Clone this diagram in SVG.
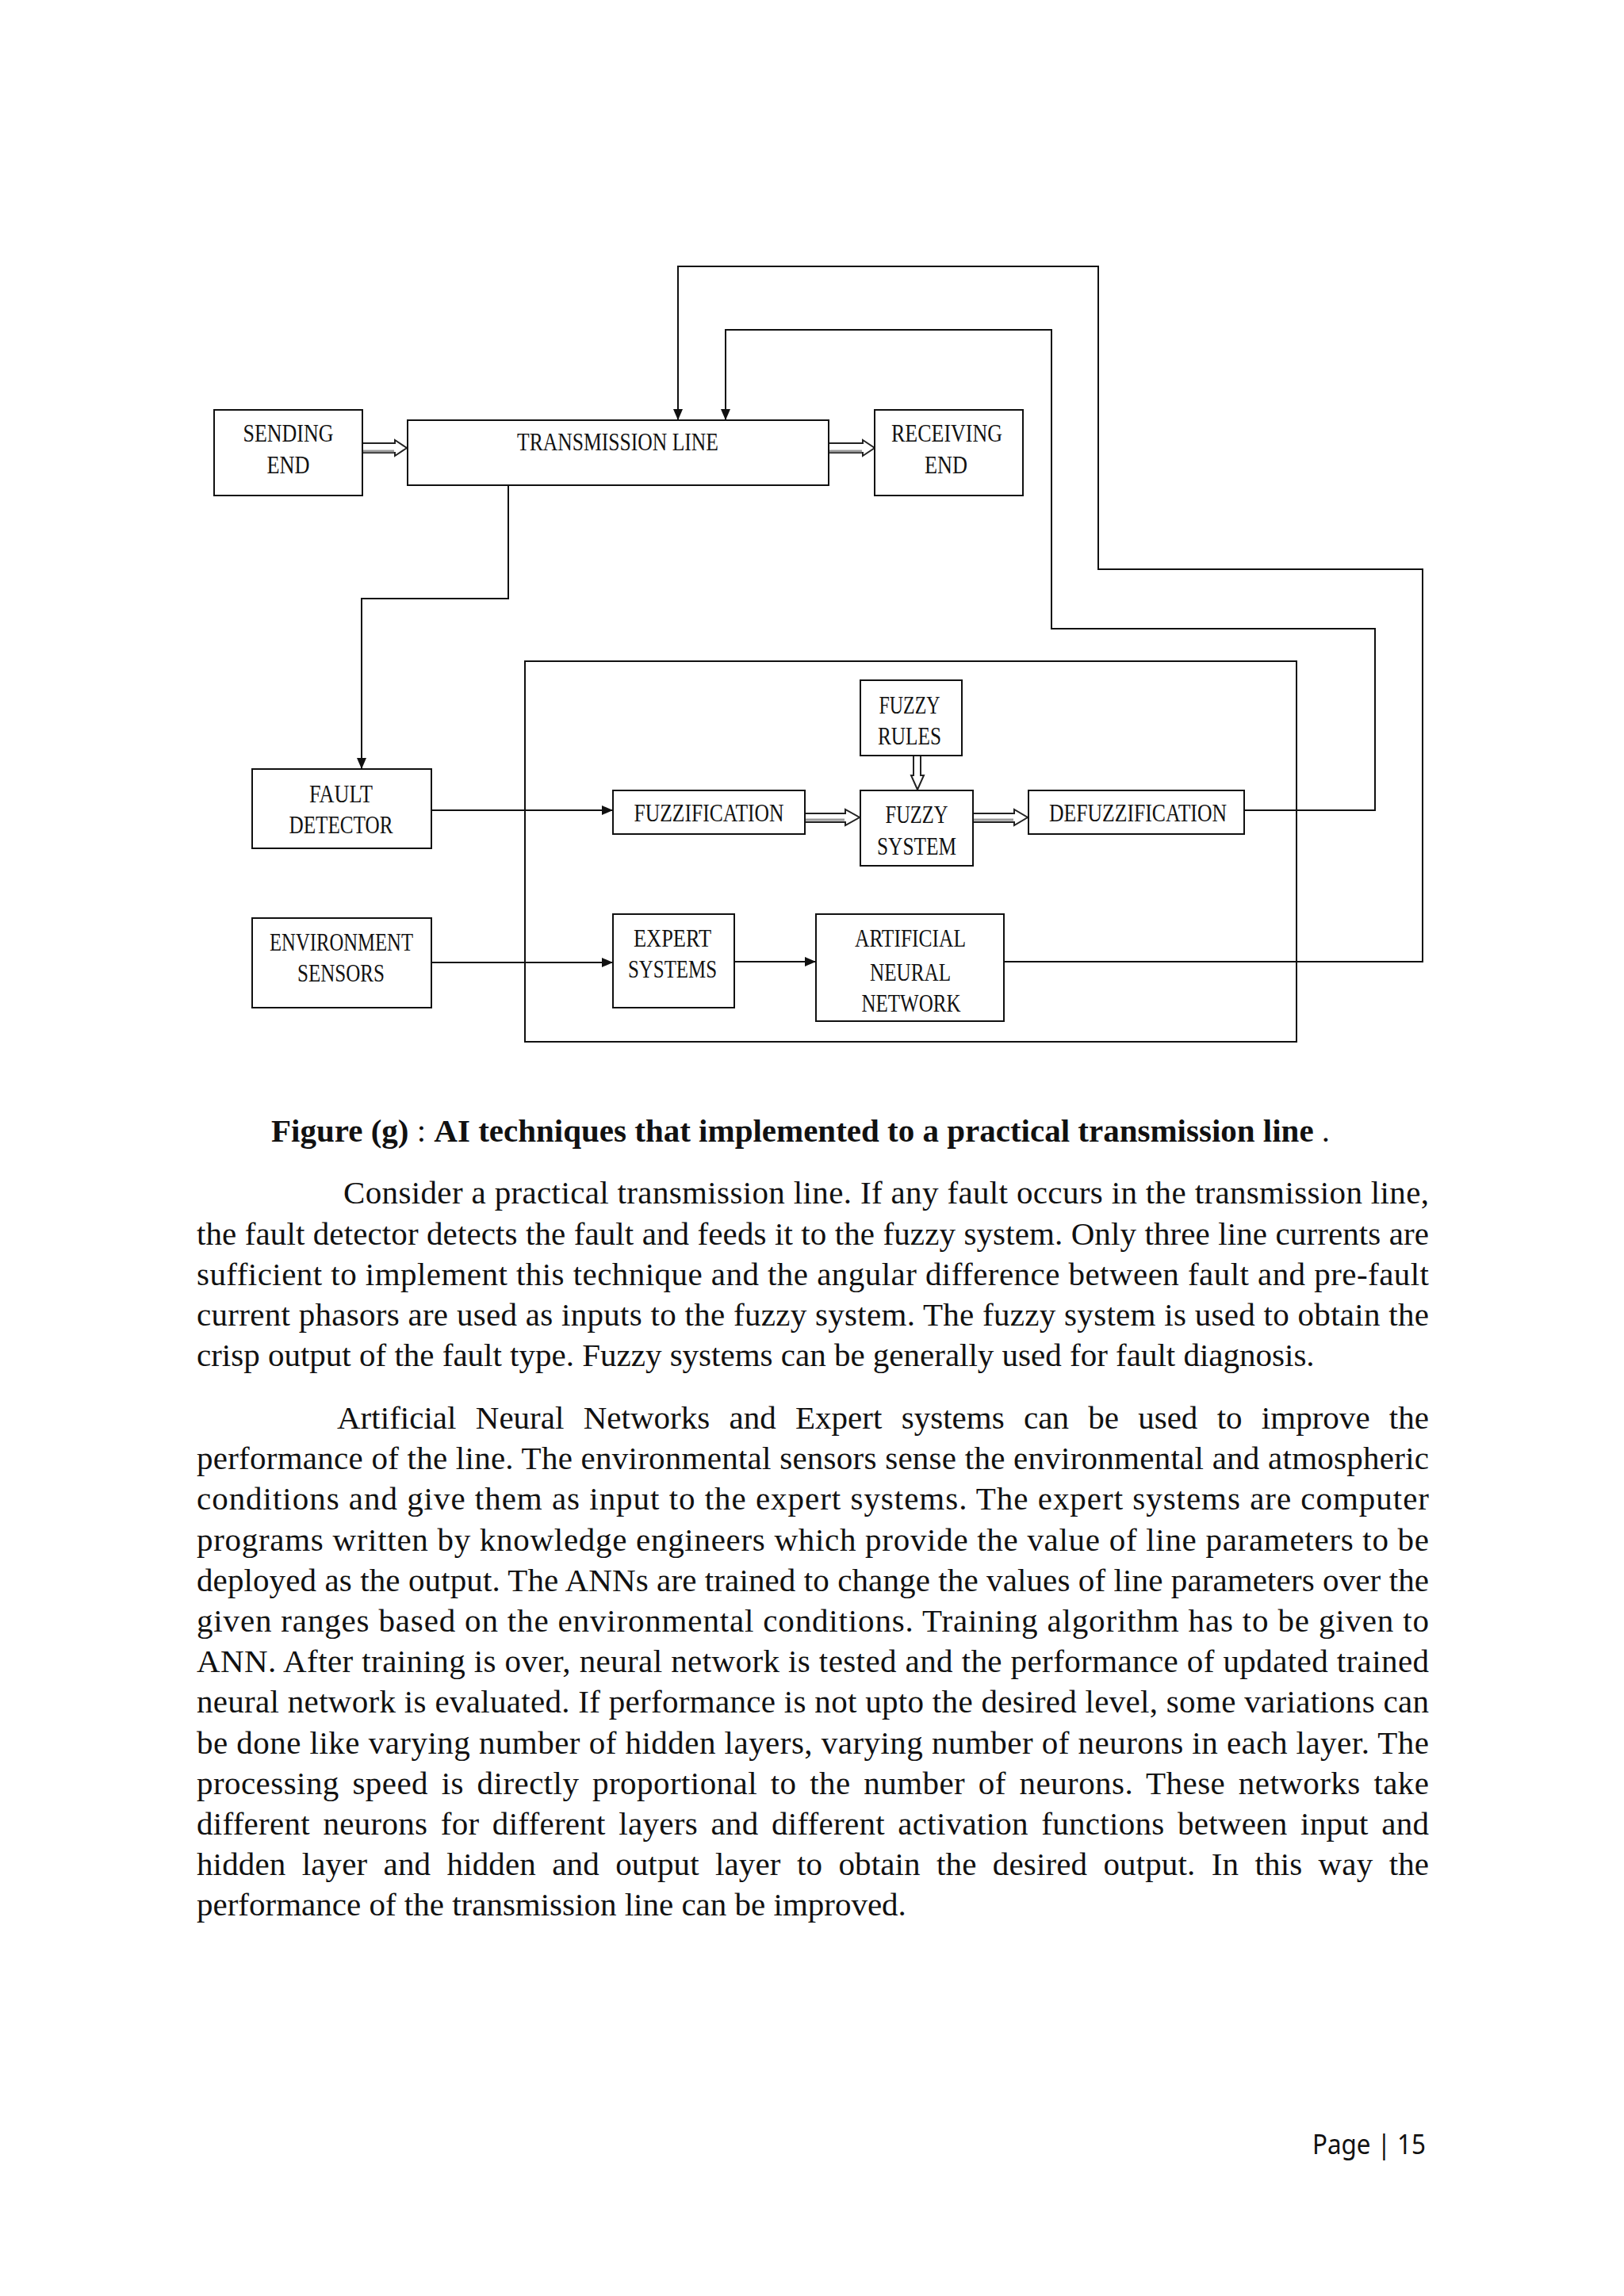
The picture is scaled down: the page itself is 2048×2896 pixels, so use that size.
<svg xmlns="http://www.w3.org/2000/svg" width="2048" height="2896" viewBox="0 0 2048 2896">
<defs>
<style>
.box{fill:#fff;stroke:#111;stroke-width:2}
.frame{fill:none;stroke:#111;stroke-width:2}
.lbl{font-family:"Liberation Serif","Times New Roman",serif;font-size:31px;fill:#111}
.ln{fill:none;stroke:#111;stroke-width:2}
.hol{fill:#fff;stroke:#222;stroke-width:2;stroke-linejoin:miter}
.sh{stroke:#999;stroke-width:3;fill:none}
.body{font-family:"Liberation Serif","Times New Roman",serif;font-size:41px;fill:#111}
.cap{font-family:"Liberation Serif","Times New Roman",serif;font-size:41px;fill:#111}
.pg{font-family:"Noto Sans","Open Sans",sans-serif;font-size:35px;fill:#111}
</style>
<marker id="ah" markerUnits="userSpaceOnUse" markerWidth="16" markerHeight="14" refX="14" refY="6" orient="auto">
<path d="M0,0 L14,6 L0,12 Z" fill="#111"/>
</marker>
</defs>
<rect width="2048" height="2896" fill="#fff"/>

<g id="container"><rect class="frame" x="662" y="834" width="973" height="480"/></g>

<g id="connectors">
<polyline class="ln" points="1266,1213 1794,1213 1794,718 1385,718 1385,336 855,336 855,530" marker-end="url(#ah)"/>
<polyline class="ln" points="1569,1022 1734,1022 1734,793 1326,793 1326,416 915,416 915,530" marker-end="url(#ah)"/>
<polyline class="ln" points="641,612 641,755 456,755 456,970" marker-end="url(#ah)"/>
<line class="ln" x1="544" y1="1022" x2="773" y2="1022" stroke-width="2.5" marker-end="url(#ah)"/>
<line class="ln" x1="544" y1="1214" x2="773" y2="1214" marker-end="url(#ah)"/>
<line class="ln" x1="926" y1="1213" x2="1029" y2="1213" marker-end="url(#ah)"/>
<path class="hol" d="M457,559 H498 V555 L513,565 L498,575 V571 H457"/>
<line class="sh" x1="457" y1="569" x2="497" y2="569"/>
<path class="hol" d="M1045,559 H1088 V555 L1103,565 L1088,575 V571 H1045"/>
<line class="sh" x1="1045" y1="569" x2="1087" y2="569"/>
<path class="hol" d="M1015,1026 H1066 V1021 L1084,1031 L1066,1041 V1037 H1015"/>
<line class="sh" x1="1015" y1="1034" x2="1065" y2="1034"/>
<path class="hol" d="M1227,1026 H1279 V1021 L1296,1031 L1279,1041 V1037 H1227"/>
<line class="sh" x1="1227" y1="1034" x2="1278" y2="1034"/>
<path class="hol" d="M1152,953 V978 H1149 L1157,996 L1165,978 H1161 V953"/>
</g>

<g id="sending-end"><rect class="box" x="270" y="517" width="187" height="108"/>
<text class="lbl" x="306.5" y="557" textLength="114" lengthAdjust="spacingAndGlyphs">SENDING</text>
<text class="lbl" x="336.5" y="597" textLength="54" lengthAdjust="spacingAndGlyphs">END</text></g>

<g id="transmission-line"><rect class="box" x="514" y="530" width="531" height="82"/>
<text class="lbl" x="652" y="568" textLength="254" lengthAdjust="spacingAndGlyphs">TRANSMISSION LINE</text></g>

<g id="receiving-end"><rect class="box" x="1103" y="517" width="187" height="108"/>
<text class="lbl" x="1124" y="557" textLength="140" lengthAdjust="spacingAndGlyphs">RECEIVING</text>
<text class="lbl" x="1166" y="597" textLength="54" lengthAdjust="spacingAndGlyphs">END</text></g>

<g id="fuzzy-rules"><rect class="box" x="1085" y="858" width="128" height="95"/>
<text class="lbl" x="1108.5" y="900" textLength="77" lengthAdjust="spacingAndGlyphs">FUZZY</text>
<text class="lbl" x="1107" y="939" textLength="80" lengthAdjust="spacingAndGlyphs">RULES</text></g>

<g id="fault-detector"><rect class="box" x="318" y="970" width="226" height="100"/>
<text class="lbl" x="390" y="1012" textLength="80" lengthAdjust="spacingAndGlyphs">FAULT</text>
<text class="lbl" x="364.5" y="1051" textLength="131" lengthAdjust="spacingAndGlyphs">DETECTOR</text></g>

<g id="fuzzification"><rect class="box" x="773" y="997" width="242" height="55"/>
<text class="lbl" x="799.5" y="1036" textLength="189" lengthAdjust="spacingAndGlyphs">FUZZIFICATION</text></g>

<g id="fuzzy-system"><rect class="box" x="1085" y="997" width="142" height="95"/>
<text class="lbl" x="1116.5" y="1038" textLength="79" lengthAdjust="spacingAndGlyphs">FUZZY</text>
<text class="lbl" x="1106" y="1078" textLength="100" lengthAdjust="spacingAndGlyphs">SYSTEM</text></g>

<g id="defuzzification"><rect class="box" x="1297" y="997" width="272" height="55"/>
<text class="lbl" x="1323" y="1036" textLength="224" lengthAdjust="spacingAndGlyphs">DEFUZZIFICATION</text></g>

<g id="environment-sensors"><rect class="box" x="318" y="1158" width="226" height="113"/>
<text class="lbl" x="340" y="1199" textLength="181" lengthAdjust="spacingAndGlyphs">ENVIRONMENT</text>
<text class="lbl" x="375" y="1238" textLength="110" lengthAdjust="spacingAndGlyphs">SENSORS</text></g>

<g id="expert-systems"><rect class="box" x="773" y="1153" width="153" height="118"/>
<text class="lbl" x="799" y="1194" textLength="98" lengthAdjust="spacingAndGlyphs">EXPERT</text>
<text class="lbl" x="792" y="1233" textLength="112" lengthAdjust="spacingAndGlyphs">SYSTEMS</text></g>

<g id="ann"><rect class="box" x="1029" y="1153" width="237" height="135"/>
<text class="lbl" x="1078" y="1194" textLength="140" lengthAdjust="spacingAndGlyphs">ARTIFICIAL</text>
<text class="lbl" x="1097" y="1237" textLength="102" lengthAdjust="spacingAndGlyphs">NEURAL</text>
<text class="lbl" x="1086.5" y="1276" textLength="125" lengthAdjust="spacingAndGlyphs">NETWORK</text></g>

<g id="caption">
<text class="cap" x="342" y="1440"><tspan font-weight="bold">Figure (g)</tspan> : <tspan font-weight="bold">AI techniques that implemented to a practical transmission line</tspan> .</text>
</g>

<g id="body-text">
<text class="body" x="433" y="1518" textLength="1369" lengthAdjust="spacing">Consider a practical transmission line. If any fault occurs in the transmission line,</text>
<text class="body" x="248" y="1569.5" textLength="1554" lengthAdjust="spacing">the fault detector detects the fault and feeds it to the fuzzy system. Only three line currents are</text>
<text class="body" x="248" y="1621" textLength="1554" lengthAdjust="spacing">sufficient to implement this technique and the angular difference between fault and pre-fault</text>
<text class="body" x="248" y="1672" textLength="1554" lengthAdjust="spacing">current phasors are used as inputs to the fuzzy system. The fuzzy system is used to obtain the</text>
<text class="body" x="248" y="1723">crisp output of the fault type. Fuzzy systems can be generally used for fault diagnosis.</text>

<text class="body" x="425" y="1802" textLength="1377" lengthAdjust="spacing" word-spacing="14">Artificial Neural Networks and Expert systems can be used to improve the</text>
<text class="body" x="248" y="1853.2" textLength="1554" lengthAdjust="spacing">performance of the line. The environmental sensors sense the environmental and atmospheric</text>
<text class="body" x="248" y="1904.4" textLength="1554" lengthAdjust="spacing">conditions and give them as input to the expert systems. The expert systems are computer</text>
<text class="body" x="248" y="1955.6" textLength="1554" lengthAdjust="spacing">programs written by knowledge engineers which provide the value of line parameters to be</text>
<text class="body" x="248" y="2006.8" textLength="1554" lengthAdjust="spacing">deployed as the output. The ANNs are trained to change the values of line parameters over the</text>
<text class="body" x="248" y="2058" textLength="1554" lengthAdjust="spacing">given ranges based on the environmental conditions. Training algorithm has to be given to</text>
<text class="body" x="248" y="2109.2" textLength="1554" lengthAdjust="spacing">ANN. After training is over, neural network is tested and the performance of updated trained</text>
<text class="body" x="248" y="2160.4" textLength="1554" lengthAdjust="spacing">neural network is evaluated. If performance is not upto the desired level, some variations can</text>
<text class="body" x="248" y="2211.6" textLength="1554" lengthAdjust="spacing">be done like varying number of hidden layers, varying number of neurons in each layer. The</text>
<text class="body" x="248" y="2262.8" textLength="1554" lengthAdjust="spacing" word-spacing="6">processing speed is directly proportional to the number of neurons. These networks take</text>
<text class="body" x="248" y="2314" textLength="1554" lengthAdjust="spacing" word-spacing="6">different neurons for different layers and different activation functions between input and</text>
<text class="body" x="248" y="2365.2" textLength="1554" lengthAdjust="spacing" word-spacing="10">hidden layer and hidden and output layer to obtain the desired output. In this way the</text>
<text class="body" x="248" y="2416.4">performance of the transmission line can be improved.</text>
</g>

<g id="page-number">
<text class="pg" x="1655" y="2717" textLength="143" lengthAdjust="spacingAndGlyphs">Page | 15</text>
</g>
</svg>
